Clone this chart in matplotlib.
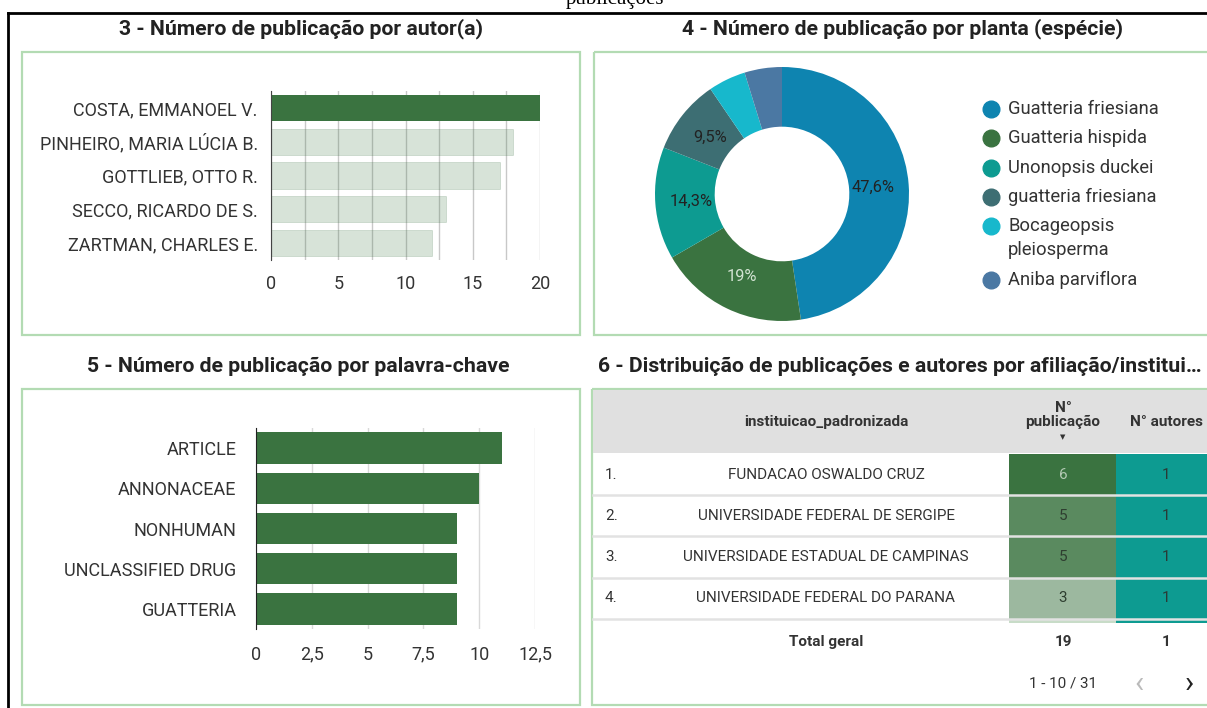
import numpy as np
import matplotlib.pyplot as plt
from matplotlib.patches import Rectangle

plt.rcParams['font.family'] = ['Roboto', 'DejaVu Sans']

# --- data ---
autores = ['COSTA, EMMANOEL V.', 'PINHEIRO, MARIA LÚCIA B.', 'GOTTLIEB, OTTO R.',
           'SECCO, RICARDO DE S.', 'ZARTMAN, CHARLES E.']
autores_pub = [20, 18, 17, 13, 12]

plantas = ['Guatteria friesiana', 'Guatteria hispida', 'Unonopsis duckei',
           'guatteria friesiana', 'Bocageopsis\npleiosperma', 'Aniba parviflora']
plantas_pub = [10, 4, 3, 2, 1, 1]
plantas_cores = ['#0e84b0', '#3a7340', '#0d9b91', '#3d6e73', '#17b8cc', '#4b78a3']

palavras = ['ARTICLE', 'ANNONACEAE', 'NONHUMAN', 'UNCLASSIFIED DRUG', 'GUATTERIA']
palavras_pub = [11, 10, 9, 9, 9]
palavras_ticks = [0, 2.5, 5, 7.5, 10, 12.5]
palavras_ticklabels = ['0', '2,5', '5', '7,5', '10', '12,5']

instituicoes = ['FUNDACAO OSWALDO CRUZ', 'UNIVERSIDADE FEDERAL DE SERGIPE',
                'UNIVERSIDADE ESTADUAL DE CAMPINAS', 'UNIVERSIDADE FEDERAL DO PARANA']
inst_pub = [6, 5, 5, 3]
inst_autores = [1, 1, 1, 1]
total_pub = 19
total_autores = 1

GREEN = '#3a7340'
TEAL = '#0d9b91'
BOX = '#b3dbb3'
TXT = '#333333'

W, H = 1207, 708
fig = plt.figure(figsize=(W / 100, H / 100), dpi=100)
bg = fig.add_axes([0, 0, 1, 1])
bg.set_xlim(0, W)
bg.set_ylim(H, 0)
bg.axis('off')


def px_axes(x0, y0, x1, y1):
    return fig.add_axes([x0 / W, 1 - y1 / H, (x1 - x0) / W, (y1 - y0) / H])


# outer frame and cut-off heading
bg.plot([8, W], [13, 13], color='black', lw=2)
bg.plot([8, 8], [13, H], color='black', lw=2)
bg.text(615, 4, 'publicações', ha='center', va='baseline', fontsize=15,
        family='Liberation Serif', color='black')

# panel boxes
for (x0, y0, x1, y1) in [(22, 52, 580, 335), (594, 52, W + 5, 335),
                         (22, 389, 580, 705), (592, 389, W + 5, 705)]:
    bg.add_patch(Rectangle((x0, y0), x1 - x0, y1 - y0, fill=False,
                           edgecolor=BOX, lw=1.6))

tkw = dict(fontsize=15.3, fontweight='bold', color='#222222', va='center')
bg.text(301, 29, '3 - Número de publicação por autor(a)', ha='center', **tkw)
bg.text(902, 29, '4 - Número de publicação por planta (espécie)', ha='center', **tkw)
bg.text(298, 366, '5 - Número de publicação por palavra-chave', ha='center', **tkw)
bg.text(598, 366, '6 - Distribuição de publicações e autores por afiliação/institui…',
        ha='left', **tkw)

# --- chart 3: authors ---
ax1 = px_axes(271, 91, 540, 260)
y = np.arange(len(autores))
alphas = [1.0] + [0.2] * (len(autores) - 1)
for yi, v, a in zip(y, autores_pub, alphas):
    ax1.barh(yi, v, height=0.78, color=GREEN, alpha=a, zorder=2,
             edgecolor=GREEN if a < 1 else 'none', linewidth=0.6)
ax1.set_ylim(len(autores) - 0.5, -0.5)
ax1.set_xlim(0, 20)
ax1.set_yticks(y)
ax1.set_yticklabels(autores)
ax1.set_xticks([0, 5, 10, 15, 20])
ax1.set_xticks(np.arange(0, 20.1, 2.5), minor=True)
ax1.grid(axis='x', which='both', color='#c8c8c8', lw=1, zorder=0)
ax1.tick_params(axis='both', which='both', length=0, labelsize=13, colors=TXT)
ax1.tick_params(axis='y', pad=9.5)
ax1.tick_params(axis='x', pad=10.5)
for s in ['top', 'right', 'bottom']:
    ax1.spines[s].set_visible(False)
ax1.spines['left'].set_color('#444444')
ax1.spines['left'].set_zorder(3)

# --- chart 4: donut ---
ax2 = px_axes(655, 67, 909, 321)


def fmt_pct(p):
    if p < 5:
        return ''
    return f'{p:.1f}'.rstrip('0').rstrip('.').replace('.', ',') + '%'


wedges, _, autotexts = ax2.pie(plantas_pub, colors=plantas_cores, startangle=90,
                               counterclock=False, autopct=fmt_pct, pctdistance=0.72,
                               wedgeprops=dict(width=0.47, edgecolor='none'),
                               textprops=dict(fontsize=11.8, color='#222222'))
autotexts[1].set_color('#d2e3d2')
ax2.set_xlim(-1, 1)
ax2.set_ylim(-1, 1)
ax2.set_aspect('equal')

# legend
ly = 109
for lab, col in zip(plantas, plantas_cores):
    bg.plot(991, ly, 'o', ms=12, color=col)
    bg.text(1008, ly, lab.split('\n')[0], ha='left', va='center', fontsize=13.2, color=TXT)
    for extra in lab.split('\n')[1:]:
        ly += 24
        bg.text(1008, ly, extra, ha='left', va='center', fontsize=13.2, color=TXT)
    ly += 29.3

# --- chart 5: keywords ---
ax3 = px_axes(256, 428, 535, 629)
y3 = np.arange(len(palavras))
ax3.barh(y3, palavras_pub, height=0.78, color=GREEN, zorder=2)
ax3.set_ylim(len(palavras) - 0.5, -0.5)
ax3.set_xlim(0, 12.5)
ax3.set_yticks(y3)
ax3.set_yticklabels(palavras)
ax3.set_xticks(palavras_ticks)
ax3.set_xticklabels(palavras_ticklabels)
ax3.grid(axis='x', color='#d9d9d9', lw=1, zorder=0)
ax3.tick_params(axis='both', length=0, labelsize=13, colors=TXT)
ax3.tick_params(axis='y', pad=14)
ax3.tick_params(axis='x', pad=12)
for s in ['top', 'right', 'bottom']:
    ax3.spines[s].set_visible(False)
ax3.spines['left'].set_color('#222222')
ax3.spines['left'].set_zorder(3)

# --- table 6 ---
hdr_top, hdr_bot = 390, 453
bg.add_patch(Rectangle((593, hdr_top), W - 593, hdr_bot - hdr_top, color='#e0e0e0', lw=0))
hkw = dict(fontsize=11, fontweight='bold', color=TXT, ha='center', va='center')
bg.text(826, 422, 'instituicao_padronizada', **hkw)
bg.text(1063, 415, 'N°\npublicação', linespacing=0.95, **hkw)
bg.text(1063, 437, '▼', fontsize=5, color=TXT, ha='center', va='center', family='DejaVu Sans')
bg.text(1166, 422, 'N° autores', **hkw)

row_h = 41.2
pub_x0, pub_x1, aut_x1 = 1009, 1116, W
for i, (nome, p, a) in enumerate(zip(instituicoes, inst_pub, inst_autores)):
    top = hdr_bot + 1 + i * row_h
    mid = top + row_h / 2
    shade = p / max(inst_pub)
    bg.add_patch(Rectangle((pub_x0, top), pub_x1 - pub_x0, row_h, color=GREEN,
                           alpha=shade, lw=0))
    bg.add_patch(Rectangle((pub_x1, top), aut_x1 - pub_x1, row_h, color=TEAL, lw=0))
    bg.plot([593, W], [top + row_h, top + row_h], color='#e2e2e2', lw=1.8)
    bg.text(605, mid, f'{i + 1}.', ha='left', va='center', fontsize=11, color=TXT)
    bg.text(826, mid, nome, ha='center', va='center', fontsize=11, color=TXT)
    bg.text(1063, mid, str(p), ha='center', va='center', fontsize=11,
            color='#b5cbb5' if shade > 0.9 else '#2e3e30')
    bg.text(1166, mid, str(a), ha='center', va='center', fontsize=11, color='#2a3a36')
# start of next (hidden) row
strip_top = hdr_bot + 1 + len(instituicoes) * row_h + 1
bg.add_patch(Rectangle((pub_x0, strip_top), pub_x1 - pub_x0, 3, color='#c8dcc8', lw=0))
bg.add_patch(Rectangle((pub_x1, strip_top), aut_x1 - pub_x1, 3, color=TEAL, lw=0))

bg.text(826, 642, 'Total geral', fontsize=11, fontweight='bold', color=TXT,
        ha='center', va='center')
bg.text(1063, 642, str(total_pub), fontsize=11, fontweight='bold', color=TXT,
        ha='center', va='center')
bg.text(1166, 642, str(total_autores), fontsize=11, fontweight='bold', color=TXT,
        ha='center', va='center')
bg.text(1063, 684, '1 - 10 / 31', fontsize=11, color=TXT, ha='center', va='center')
bg.text(1139, 684, '‹', fontsize=22, color='#bbbbbb', ha='center', va='center')
bg.text(1189, 684, '›', fontsize=22, color='#222222', ha='center', va='center')

fig.savefig('out.png', dpi=100)
